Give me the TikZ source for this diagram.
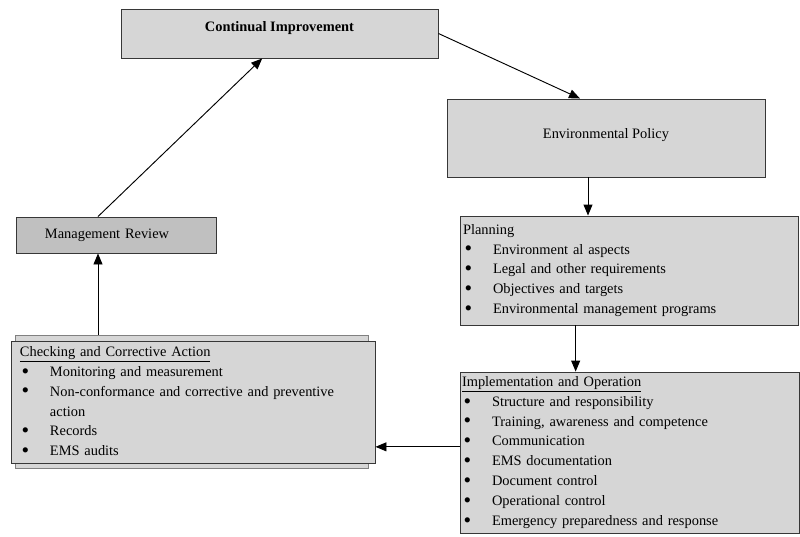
\documentclass[tikz,border=0pt]{standalone}
\usepackage{fontspec}
\setmainfont{Liberation Serif}
\usepackage{tikz}
\usetikzlibrary{arrows.meta}
\definecolor{boxgray}{RGB}{214,214,214}
\definecolor{reviewgray}{RGB}{192,192,192}
\definecolor{edgegray}{RGB}{55,55,55}
\newcommand{\bul}{\makebox[9mm][l]{\hspace{0.5mm}\raisebox{-1.6pt}{\scalebox{1.5}{\textbullet}}}}
\tikzset{
  box/.style={draw=edgegray, line width=0.8pt, fill=boxgray, inner sep=0pt},
  listbox/.style={box, align=left},
  arrow/.style={-{Triangle[length=3.3mm,width=2.7mm]}, line width=0.8pt},
}
\begin{document}
\begin{tikzpicture}[x=0.3mm, y=-0.3mm, font=\fontsize{12.3pt}{17pt}\selectfont]
  \useasboundingbox (0,0) rectangle (800,536);

  \node[box, minimum width=95.1mm, minimum height=14.7mm, text height=3mm, text depth=4.4mm,
        font=\fontsize{12.3pt}{17pt}\selectfont\bfseries]
       (CI) at (279.5,33.5) {Continual Improvement};
  \node[box, minimum width=95.4mm, minimum height=23.4mm, text height=3mm, text depth=3mm]
       (EP) at (606,138) {Environmental Policy};
  \node[listbox, text width=99.6mm, inner xsep=0.9mm, minimum height=32.7mm]
       (PL) at (629,270.5) {Planning\\
         \bul Environment al aspects\\
         \bul Legal and other requirements\\
         \bul Objectives and targets\\
         \bul Environmental management programs};
  \node[listbox, text width=100.5mm, inner xsep=0.6mm, minimum height=48.3mm]
       (IO) at (629.5,452.5) {\underline{Implementation and Operation}\\
         \bul Structure and responsibility\\
         \bul Training, awareness and competence\\
         \bul Communication\\
         \bul EMS documentation\\
         \bul Document control\\
         \bul Operational control\\
         \bul Emergency preparedness and response};
  \node[box, draw=gray, minimum width=105.9mm, minimum height=39.9mm]
       (CAback) at (191.5,401.5) {};
  \node[listbox, text width=103.8mm, inner xsep=2.7mm, minimum height=36.6mm]
       (CA) at (193,402) {\underline{Checking and Corrective Action}\\
         \bul Monitoring and measurement\\
         \bul Non-conformance and corrective and preventive\\
         \hspace*{9mm}action\\
         \bul Records\\
         \bul EMS audits};
  \node[box, fill=reviewgray, align=left, text width=42.6mm, inner xsep=8.7mm, minimum height=10.8mm]
       (MR) at (116,235) {Management Review};

  \draw[arrow] (CI.east) -- ([xshift=-7.8mm]EP.north);
  \draw[arrow] ([xshift=-5.4mm]EP.south) -- ([xshift=-5.4mm]EP.south |- PL.north);
  \draw[arrow] ([xshift=-16mm]PL.south) -- ([xshift=-16mm]PL.south |- IO.north);
  \draw[arrow] ([yshift=1.7mm]IO.west) -- ([yshift=1.7mm]IO.west -| CA.east);
  \draw[arrow] ([xshift=-5.4mm]MR.south |- CAback.north) -- ([xshift=-5.4mm]MR.south);
  \draw[arrow] ([xshift=-5.4mm]MR.north) -- ([xshift=-5.2mm]CI.south);
\end{tikzpicture}
\end{document}
